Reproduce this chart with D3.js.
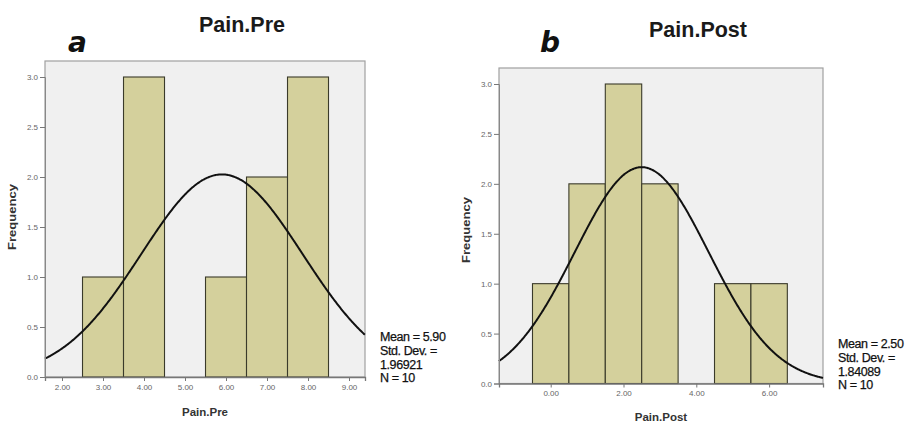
<!DOCTYPE html>
<html>
<head>
<meta charset="utf-8">
<script src="https://cdn.jsdelivr.net/npm/d3@7"></script>
<style>
  body { margin: 0; background: #fff; }
  svg { display: block; font-family: "Liberation Sans", Arial, sans-serif; }
</style>
</head>
<body>
<script>
const W = 914, H = 426;

// Pain.Pre histogram (bin centres and counts)
const preBins = [3, 4, 5, 6, 7, 8];
const preCounts = [1, 3, 0, 1, 2, 3];
const preTicks = [2, 3, 4, 5, 6, 7, 8, 9];
const preStats = ["Mean = 5.90", "Std. Dev. =", "1.96921", "N = 10"];

// Pain.Post histogram
const postBins = [0, 1, 2, 3, 4, 5, 6];
const postCounts = [1, 2, 3, 2, 0, 1, 1];
const postTicks = [0, 2, 4, 6];
const postStats = ["Mean = 2.50", "Std. Dev. =", "1.84089", "N = 10"];

const yTicks = [0, 0.5, 1.0, 1.5, 2.0, 2.5, 3.0];

const BAR_FILL = "#d4d09c";
const PLOT_BG = "#f0f0f0";

const svg = d3.select("body").append("svg")
    .attr("width", W)
    .attr("height", H);

function drawPanel(opt) {
    const g = svg.append("g");
    const x = d3.scaleLinear().domain(opt.xDomain).range([opt.left, opt.right]);
    const y = d3.scaleLinear().domain([0, 3]).range([opt.y0, opt.y3]);

    // plot area
    g.append("rect")
        .attr("x", opt.left).attr("y", opt.top)
        .attr("width", opt.right - opt.left).attr("height", opt.y0 - opt.top)
        .attr("fill", PLOT_BG)
        .attr("stroke", "#a0a0a0").attr("stroke-width", 1.2);

    // bars
    const bars = opt.bins.map((b, i) => ({ b: b, n: opt.counts[i] })).filter(d => d.n > 0);
    g.selectAll("rect.bar").data(bars).enter().append("rect")
        .attr("class", "bar")
        .attr("x", d => x(d.b - 0.5))
        .attr("y", d => y(d.n))
        .attr("width", d => x(d.b + 0.5) - x(d.b - 0.5))
        .attr("height", d => y(0) - y(d.n))
        .attr("fill", BAR_FILL)
        .attr("stroke", "#3a3a2a").attr("stroke-width", 1.1);

    // normal curve, N * binwidth * pdf
    const n = d3.sum(opt.counts);
    const mean = d3.sum(opt.bins.map((b, i) => b * opt.counts[i])) / n;
    const sd = opt.sd;
    const pts = d3.range(opt.xDomain[0], opt.xDomain[1] + 0.001, 0.02).map(v =>
        [v, n / (sd * Math.sqrt(2 * Math.PI)) * Math.exp(-0.5 * ((v - mean) / sd) ** 2)]);
    g.append("path")
        .datum(pts)
        .attr("fill", "none")
        .attr("stroke", "#111")
        .attr("stroke-width", 2)
        .attr("d", d3.line().x(d => x(d[0])).y(d => y(d[1])).curve(d3.curveBasis));

    // axes
    const yAxis = d3.axisLeft(y).tickValues(yTicks).tickFormat(d3.format(".1f")).tickSize(5).tickPadding(2);
    g.append("g").attr("transform", `translate(${opt.left},0)`).call(yAxis)
        .call(a => a.select(".domain").attr("stroke", "#888"))
        .call(a => a.selectAll(".tick line").attr("stroke", "#777"))
        .call(a => a.selectAll("text").attr("font-size", 8).attr("fill", "#666"));

    const xAxis = d3.axisBottom(x).tickValues(opt.ticks).tickFormat(d3.format(".2f")).tickSize(4).tickPadding(3);
    g.append("g").attr("transform", `translate(0,${opt.y0})`).call(xAxis)
        .call(a => a.select(".domain").attr("stroke", "#777").attr("stroke-width", 1.3))
        .call(a => a.selectAll(".tick line").attr("stroke", "#777"))
        .call(a => a.selectAll("text").attr("font-size", 8).attr("fill", "#666"));

    // titles and labels
    g.append("text")
        .attr("x", opt.titleX).attr("y", opt.titleY)
        .attr("text-anchor", "middle")
        .attr("font-size", 21.5).attr("font-weight", "bold").attr("fill", "#1a1a1a")
        .text(opt.title);

    g.append("text")
        .attr("x", opt.letterX).attr("y", opt.letterY)
        .attr("font-size", 28).attr("font-weight", "bold").attr("font-style", "italic")
        .attr("font-family", "'DejaVu Sans', sans-serif")
        .attr("fill", "#111")
        .text(opt.letter);

    g.append("text")
        .attr("x", (opt.left + opt.right) / 2 + opt.xLabelShift).attr("y", opt.xLabelY)
        .attr("text-anchor", "middle")
        .attr("font-size", 11.5).attr("font-weight", "bold").attr("fill", "#333")
        .text(opt.title);

    g.append("text")
        .attr("transform", `translate(${opt.yLabelX},${opt.yLabelY}) rotate(-90)`)
        .attr("text-anchor", "middle")
        .attr("font-size", 11).attr("font-weight", "bold").attr("fill", "#333")
        .attr("textLength", 66).attr("lengthAdjust", "spacingAndGlyphs")
        .text("Frequency");

    g.append("g").selectAll("text").data(opt.stats).enter().append("text")
        .attr("x", opt.statsX)
        .attr("y", (d, i) => opt.statsY + i * 13.8)
        .attr("font-size", 12.5).attr("fill", "#111")
        .attr("letter-spacing", -0.4)
        .attr("stroke", "#111").attr("stroke-width", 0.25)
        .text(d => d);
}

drawPanel({
    bins: preBins, counts: preCounts, ticks: preTicks, stats: preStats, sd: 1.96921,
    xDomain: [1.585, 9.39], left: 45, right: 365, top: 61, y0: 377, y3: 77,
    title: "Pain.Pre", titleX: 242, titleY: 32, letter: "a", letterX: 68, letterY: 52,
    xLabelShift: 0, xLabelY: 416, yLabelX: 16, yLabelY: 217, statsX: 380, statsY: 341
});

drawPanel({
    bins: postBins, counts: postCounts, ticks: postTicks, stats: postStats, sd: 1.84089,
    xDomain: [-1.42, 7.48], left: 499, right: 823, top: 68, y0: 383.5, y3: 84,
    title: "Pain.Post", titleX: 698, titleY: 37, letter: "b", letterX: 540, letterY: 52,
    xLabelShift: 0, xLabelY: 421, yLabelX: 470, yLabelY: 230, statsX: 838, statsY: 348
});
</script>
</body>
</html>
